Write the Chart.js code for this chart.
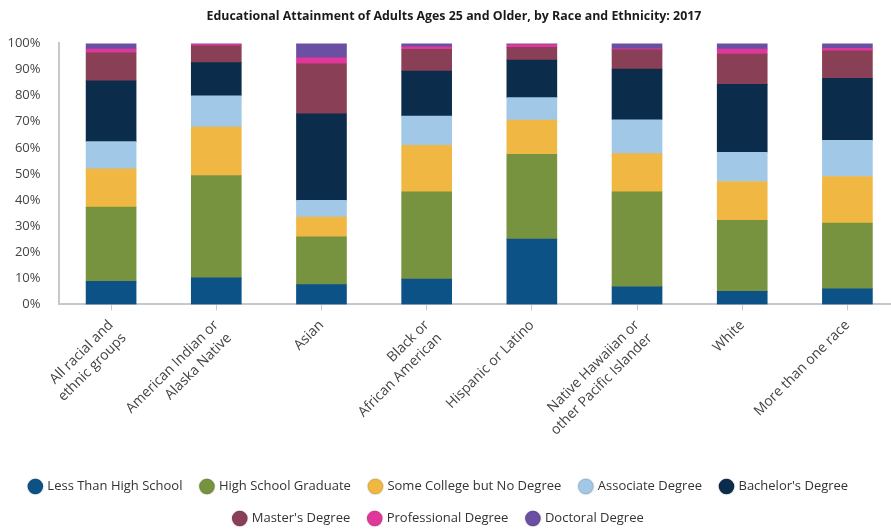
<!DOCTYPE html>
<html>
<head>
<meta charset="utf-8">
<script src="https://cdn.jsdelivr.net/npm/chart.js@4/dist/chart.umd.min.js"></script>
<style>
  html, body { margin: 0; padding: 0; background: #fff; overflow: hidden; }
  #wrap { position: relative; width: 900px; height: 535px; }
</style>
</head>
<body>
<div id="wrap"><canvas id="c"></canvas></div>
<script>
const categories = [
  ["All racial and", "ethnic groups"],
  ["American Indian or", "Alaska Native"],
  "Asian",
  ["Black or", "African American"],
  "Hispanic or Latino",
  ["Native Hawaiian or", "other Pacific Islander"],
  "White",
  "More than one race"
];
const seriesNames = [
  "Less Than High School", "High School Graduate", "Some College but No Degree",
  "Associate Degree", "Bachelor's Degree", "Master's Degree",
  "Professional Degree", "Doctoral Degree"
];
const lessThanHighSchool = [8.9, 10.2, 7.6, 9.7, 25.0, 6.8, 5.0, 6.0];
const highSchoolGraduate = [28.4, 39.2, 18.3, 33.4, 32.5, 36.3, 27.2, 25.2];
const someCollege = [14.7, 18.5, 7.6, 17.9, 13.1, 14.7, 14.9, 17.8];
const associateDegree = [10.4, 12.0, 6.4, 11.2, 8.6, 12.9, 11.2, 13.9];
const bachelorsDegree = [23.3, 12.7, 33.1, 17.2, 14.4, 19.5, 26.0, 23.7];
const mastersDegree = [10.7, 6.5, 19.2, 8.3, 4.9, 7.3, 11.6, 10.5];
const professionalDegree = [1.4, 0.5, 2.3, 1.0, 1.0, 0.4, 1.9, 1.0];
const doctoralDegree = [2.2, 0.4, 5.5, 1.3, 0.5, 2.1, 2.2, 1.9];
const yTickValues = [0, 10, 20, 30, 40, 50, 60, 70, 80, 90, 100];

const seriesValues = [lessThanHighSchool, highSchoolGraduate, someCollege, associateDegree,
  bachelorsDegree, mastersDegree, professionalDegree, doctoralDegree];
const colors = ["#0c5287", "#77933f", "#f0b843", "#a1c8e6", "#0c2c4c", "#893f55", "#e0389a", "#6a4fa3"];

const FONT = "'Open Sans', 'Noto Sans', sans-serif";

const legendShift = {
  id: 'legendShift',
  afterLayout(chart) {
    const lg = chart.legend;
    if (lg) { lg.left -= 15; lg.right -= 15; }
  }
};

new Chart(document.getElementById('c'), {
  type: 'bar',
  data: {
    labels: categories,
    datasets: seriesNames.map((name, i) => ({
      label: name,
      data: seriesValues[i],
      backgroundColor: colors[i],
      borderWidth: 0,
      barThickness: 50
    }))
  },
  plugins: [legendShift],
  options: {
    responsive: true,
    maintainAspectRatio: false,
    animation: false,
    layout: { autoPadding: false, padding: { left: 8, right: 0, top: 0, bottom: 0 } },
    plugins: {
      title: {
        display: true,
        text: "Educational Attainment of Adults Ages 25 and Older, by Race and Ethnicity: 2017",
        color: '#1a1a1a',
        font: { family: FONT, size: 12.4, weight: 'bold' },
        padding: { top: 9, bottom: 19.5 }
      },
      legend: {
        position: 'bottom',
        labels: {
          usePointStyle: true,
          pointStyle: 'circle',
          boxHeight: 11,
          boxWidth: 11,
          padding: 19,
          color: '#333',
          font: { family: FONT, size: 13 },
          generateLabels(chart) {
            const items = Chart.defaults.plugins.legend.labels.generateLabels(chart);
            items.forEach(it => { it.strokeStyle = 'rgba(0,0,0,0.08)'; it.lineWidth = 2; });
            return items;
          }
        }
      },
      tooltip: { enabled: false }
    },
    scales: {
      x: {
        stacked: true,
        afterFit(scale) { scale.height += 16; },
        grid: { display: true, offset: false, drawOnChartArea: false, drawTicks: true, tickLength: 6, color: '#c8c8c8' },
        border: { display: true, color: '#c8c8c8', width: 2 },
        ticks: {
          color: '#444',
          font: { family: FONT, size: 14, lineHeight: 1.3 },
          maxRotation: 45,
          minRotation: 45,
          autoSkip: false,
          padding: 6
        }
      },
      y: {
        stacked: true,
        min: 0,
        max: 100,
        afterBuildTicks(scale) { scale.ticks = yTickValues.map(v => ({ value: v })); },
        afterFit(scale) { scale.width = 50.5; },
        grid: { display: false, drawTicks: false },
        border: { display: true, color: '#c8c8c8', width: 2 },
        ticks: {
          color: '#444',
          font: { family: FONT, size: 13 },
          padding: 18,
          callback: v => v + '%'
        }
      }
    }
  }
});
</script>
</body>
</html>
